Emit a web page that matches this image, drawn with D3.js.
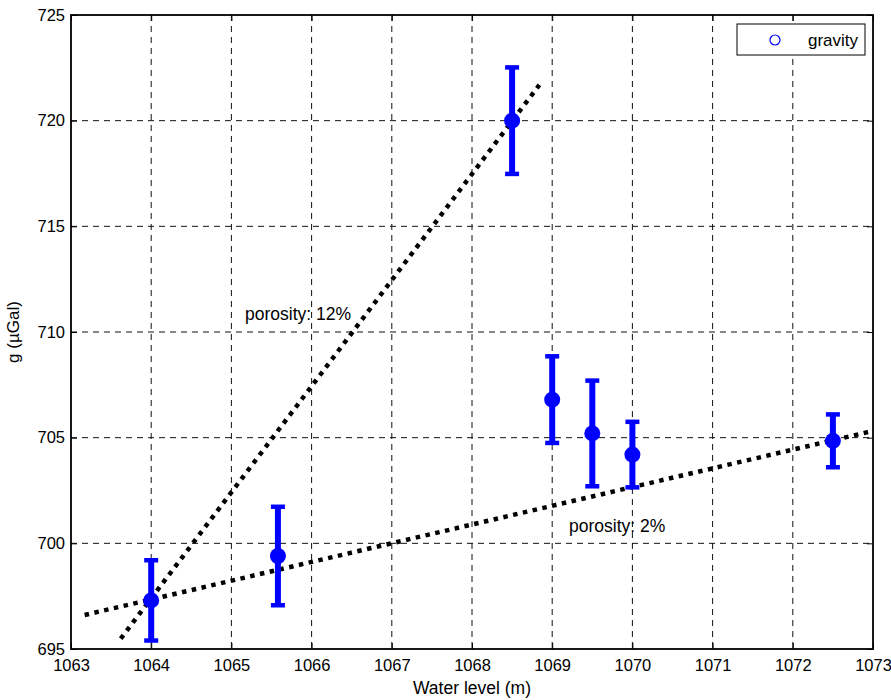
<!DOCTYPE html>
<html lang="en">
<head>
<meta charset="utf-8">
<title>g vs water level</title>
<script src="https://d3js.org/d3.v7.min.js"></script>
<style>
  body { margin: 0; background: #fff; }
  svg { font-family: "Liberation Sans", Arial, sans-serif; }
  .grid line { stroke: #111; stroke-width: 1; stroke-dasharray: 6,5; }
  .axis path, .axis line { stroke: #000; }
  .axis text { font-size: 16.5px; fill: #000; }
</style>
</head>
<body>
<svg width="891" height="700"></svg>
<script>
// data
var waterLevel = [1064, 1065.58, 1068.5, 1069, 1069.5, 1070, 1072.5];
var gravity    = [697.3, 699.4, 720.0, 706.8, 705.2, 704.2, 704.85];
var gError     = [1.9, 2.33, 2.52, 2.05, 2.5, 1.55, 1.25];

// porosity lines: [x0, y0, x1, y1]
var line12 = [1063.62, 695.49, 1068.84, 721.69];
var line2  = [1063.17, 696.61, 1073, 705.32];

var xTicks = d3.range(1063, 1074, 1);
var yTicks = d3.range(695, 726, 5);

var svg = d3.select("svg"),
    margin = {top: 15, right: 18, bottom: 51, left: 71},
    width = +svg.attr("width") - margin.left - margin.right,
    height = +svg.attr("height") - margin.top - margin.bottom;

var x = d3.scaleLinear().domain([1063, 1073]).range([0, width]);
var y = d3.scaleLinear().domain([695, 725]).range([height, 0]);

var g = svg.append("g").attr("transform", "translate(" + margin.left + "," + margin.top + ")");

// grid
var grid = g.append("g").attr("class", "grid");
grid.selectAll(".gx").data(xTicks.slice(1, -1)).enter().append("line")
    .attr("x1", d => x(d)).attr("x2", d => x(d))
    .attr("y1", 0).attr("y2", height);
grid.selectAll(".gy").data(yTicks.slice(1, -1)).enter().append("line")
    .attr("x1", 0).attr("x2", width)
    .attr("y1", d => y(d)).attr("y2", d => y(d));

// axes (ticks inward like matlab)
g.append("g").attr("class", "axis")
    .attr("transform", "translate(0," + height + ")")
    .call(d3.axisBottom(x).tickValues(xTicks).tickFormat(d3.format("d")).tickSizeInner(-6).tickSizeOuter(0).tickPadding(10))
    .call(a => a.select(".domain").remove());
g.append("g").attr("class", "axis")
    .call(d3.axisLeft(y).tickValues(yTicks).tickFormat(d3.format("d")).tickSizeInner(-6).tickSizeOuter(0).tickPadding(6))
    .call(a => a.select(".domain").remove());
g.append("g").attr("class", "axis")
    .call(d3.axisTop(x).tickValues(xTicks).tickFormat("").tickSizeInner(-6).tickSizeOuter(0))
    .call(a => a.select(".domain").remove());
g.append("g").attr("class", "axis")
    .attr("transform", "translate(" + width + ",0)")
    .call(d3.axisRight(y).tickValues(yTicks).tickFormat("").tickSizeInner(-6).tickSizeOuter(0))
    .call(a => a.select(".domain").remove());

// box
g.append("rect")
    .attr("width", width).attr("height", height)
    .attr("fill", "none").attr("stroke", "#000").attr("stroke-width", 1.8);

// porosity lines
[line12, line2].forEach(function(l) {
  g.append("line")
    .attr("x1", x(l[0])).attr("y1", y(l[1]))
    .attr("x2", x(l[2])).attr("y2", y(l[3]))
    .attr("stroke", "#000").attr("stroke-width", 4.5)
    .attr("stroke-dasharray", "4.5,5.5");
});

// error bars
var pts = waterLevel.map((d, i) => ({x: d, y: gravity[i], e: gError[i]}));
var eb = g.append("g").attr("stroke", "#0000ff");
eb.selectAll(".stem").data(pts).enter().append("line")
    .attr("x1", d => x(d.x)).attr("x2", d => x(d.x))
    .attr("y1", d => y(d.y - d.e)).attr("y2", d => y(d.y + d.e))
    .attr("stroke-width", 6);
eb.selectAll(".capT").data(pts).enter().append("line")
    .attr("x1", d => x(d.x) - 7).attr("x2", d => x(d.x) + 7)
    .attr("y1", d => y(d.y + d.e)).attr("y2", d => y(d.y + d.e))
    .attr("stroke-width", 4.5);
eb.selectAll(".capB").data(pts).enter().append("line")
    .attr("x1", d => x(d.x) - 7).attr("x2", d => x(d.x) + 7)
    .attr("y1", d => y(d.y - d.e)).attr("y2", d => y(d.y - d.e))
    .attr("stroke-width", 4.5);
g.selectAll(".pt").data(pts).enter().append("circle")
    .attr("cx", d => x(d.x)).attr("cy", d => y(d.y))
    .attr("r", 8).attr("fill", "#0000ff");

// annotations
g.append("text").attr("x", x(1065.17)).attr("y", y(710.57))
    .attr("font-size", 17.5).text("porosity: 12%");
g.append("text").attr("x", x(1069.21)).attr("y", y(700.55))
    .attr("font-size", 17.5).text("porosity: 2%");

// axis labels
svg.append("text")
    .attr("x", margin.left + width / 2).attr("y", 694)
    .attr("text-anchor", "middle").attr("font-size", 17.5)
    .text("Water level (m)");
svg.append("text")
    .attr("transform", "translate(19," + (margin.top + height / 2) + ") rotate(-90)")
    .attr("text-anchor", "middle").attr("font-size", 17)
    .text("g (\u00b5Gal)");

// legend
var lg = svg.append("g").attr("transform", "translate(737,24)");
lg.append("rect").attr("width", 128).attr("height", 31)
    .attr("fill", "#fff").attr("stroke", "#000").attr("stroke-width", 1);
lg.append("circle").attr("cx", 38).attr("cy", 16).attr("r", 5)
    .attr("fill", "none").attr("stroke", "#0000ff").attr("stroke-width", 1.2);
lg.append("text").attr("x", 71).attr("y", 22).attr("font-size", 17).text("gravity");
</script>
</body>
</html>
